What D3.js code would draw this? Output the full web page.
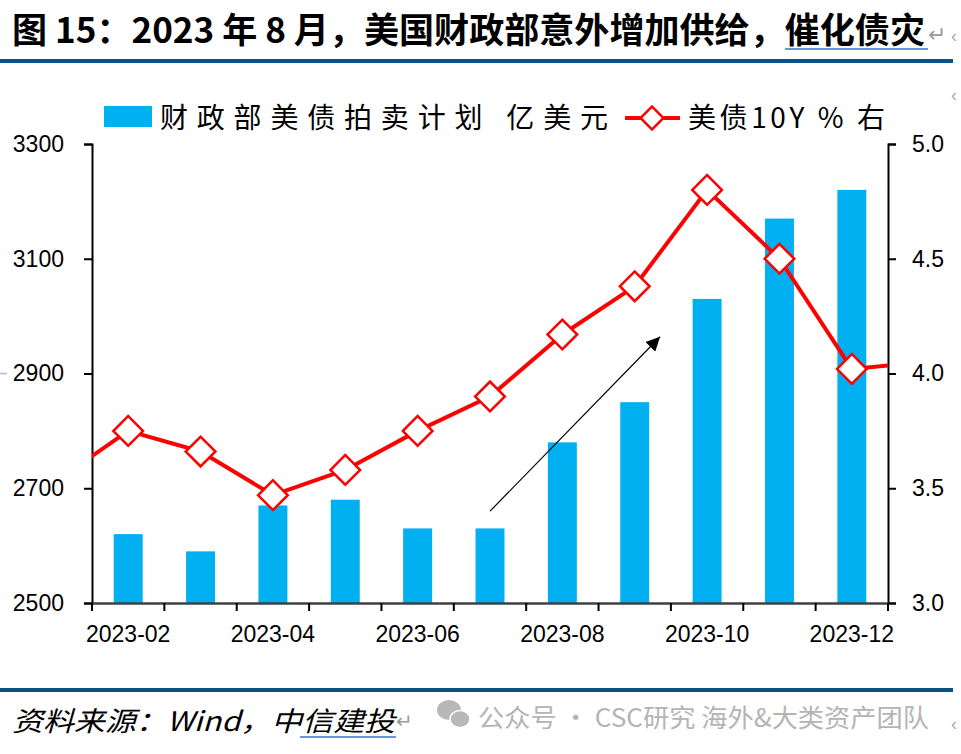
<!DOCTYPE html>
<html>
<head>
<meta charset="utf-8">
<script src="https://cdn.jsdelivr.net/npm/d3@7"></script>
<style>
  html, body { margin: 0; padding: 0; background: #fff; }
  svg { display: block; }
</style>
</head>
<body>
<svg id="chart" width="961" height="754"></svg>
<script>
// ---------------- data ----------------
const months = ["2023-02","2023-03","2023-04","2023-05","2023-06","2023-07","2023-08","2023-09","2023-10","2023-11","2023-12"];
const auction = [2620, 2590, 2670, 2680, 2630, 2630, 2780, 2850, 3030, 3170, 3220];
const yieldMonths = ["2023-01","2023-02","2023-03","2023-04","2023-05","2023-06","2023-07","2023-08","2023-09","2023-10","2023-11","2023-12","2024-01"];
const yield10y = [3.53, 3.75, 3.66, 3.47, 3.58, 3.75, 3.90, 4.17, 4.38, 4.80, 4.50, 4.02, 4.05];
const leftTicks = [2500, 2700, 2900, 3100, 3300];
const rightTicks = [3.0, 3.5, 4.0, 4.5, 5.0];
const xTickLabels = ["2023-02","2023-04","2023-06","2023-08","2023-10","2023-12"];
const titleText = "图 15：2023 年 8 月，美国财政部意外增加供给，催化债灾";
const legendBar = "财政部美债拍卖计划 亿美元";
const legendLine = "美债10Y % 右";
const sourceText = "资料来源：Wind，中信建投";
const watermark = "公众号 · CSC研究 海外&大类资产团队";
// trend arrow annotation in data terms: [category index, left-axis value]
const arrowFrom = [5, 2660];
const arrowTo = [7.35, 2964];

// ---------------- layout ----------------
const svg = d3.select("#chart");
const L = 92, R = 888, T = 144, B = 603;
const BLUE = "#00b0f0", RED = "#ff0000", NAVY = "#0b5282";
const numFont = "'Liberation Sans', Arial, sans-serif";
const cjkFont = "'Noto Sans CJK SC', 'Noto Sans', sans-serif";

const x = d3.scaleBand().domain(months).range([L, R]).paddingInner(0.6).paddingOuter(0.3);
const step = x.step();
const xl = d3.scalePoint().domain(yieldMonths).range([L - step / 2, R + step / 2]);
const yL = d3.scaleLinear().domain([2500, 3300]).range([B, T]);
const yR = d3.scaleLinear().domain([3.0, 5.0]).range([B, T]);

// ---------------- title ----------------
svg.append("text").attr("x", 12).attr("y", 43)
  .attr("font-family", cjkFont).attr("font-weight", 700).attr("font-size", 35)
  .attr("textLength", 913).attr("lengthAdjust", "spacingAndGlyphs")
  .attr("fill", "#000").text(titleText);
svg.append("line").attr("x1", 785).attr("x2", 928).attr("y1", 49).attr("y2", 49)
  .attr("stroke", "#3a6fd8").attr("stroke-width", 1.5);
svg.append("text").attr("x", 928).attr("y", 42).attr("font-family", cjkFont)
  .attr("font-size", 22).attr("fill", "#9a9a9a").text("↵");
svg.append("rect").attr("x", 0).attr("y", 59).attr("width", 953).attr("height", 4).attr("fill", NAVY);
svg.append("text").attr("x", 951).attr("y", 42).attr("font-family", numFont)
  .attr("font-size", 18).attr("fill", "#aaa").text("‹");
svg.append("text").attr("x", 951).attr("y", 101).attr("font-family", numFont)
  .attr("font-size", 18).attr("fill", "#aaa").text("‹");

// ---------------- legend ----------------
svg.append("rect").attr("x", 104).attr("y", 106).attr("width", 48).attr("height", 21).attr("fill", BLUE);
svg.append("text").attr("x", 160).attr("y", 128)
  .attr("font-family", cjkFont).attr("font-size", 28)
  .attr("textLength", 448).attr("lengthAdjust", "spacing")
  .attr("fill", "#000").text(legendBar);
svg.append("line").attr("x1", 625).attr("x2", 680).attr("y1", 118).attr("y2", 118)
  .attr("stroke", RED).attr("stroke-width", 4);
svg.append("path").attr("d", d3.symbol(d3.symbolSquare, 260)())
  .attr("transform", "translate(652,118) rotate(45)")
  .attr("fill", "#fff").attr("stroke", RED).attr("stroke-width", 2.5);
svg.append("text").attr("x", 688).attr("y", 128)
  .attr("font-family", cjkFont).attr("font-size", 28)
  .attr("textLength", 197).attr("lengthAdjust", "spacing")
  .attr("fill", "#000").text(legendLine);

// ---------------- bars ----------------
svg.append("g").selectAll("rect").data(months).join("rect")
  .attr("x", d => x(d)).attr("width", x.bandwidth())
  .attr("y", (d, i) => yL(auction[i]))
  .attr("height", (d, i) => yL(2500) - yL(auction[i]))
  .attr("fill", BLUE);

// ---------------- axes ----------------
const axL = svg.append("g").attr("transform", `translate(${L},0)`)
  .call(d3.axisLeft(yL).tickValues(leftTicks).tickSize(8).tickPadding(20).tickFormat(d3.format("d")));
const axR = svg.append("g").attr("transform", `translate(${R},0)`)
  .call(d3.axisRight(yR).tickValues(rightTicks).tickSize(8).tickPadding(10).tickFormat(d3.format(".1f")));
[axL, axR].forEach(a => {
  a.select(".domain").attr("stroke", "#000").attr("stroke-width", 2);
  a.selectAll(".tick line").attr("stroke", "#000").attr("stroke-width", 2);
  a.selectAll(".tick text").attr("font-family", numFont).attr("font-size", 23).attr("fill", "#000");
});
axR.selectAll(".tick text").attr("dx", 6);

// x axis
const axX = svg.append("g").attr("transform", `translate(0,${B})`)
  .call(d3.axisBottom(x).tickValues(xTickLabels).tickSize(0).tickPadding(23));
axX.select(".domain").attr("stroke", "#404040").attr("stroke-width", 2.5);
axX.selectAll(".tick text").attr("font-family", numFont).attr("font-size", 23).attr("fill", "#000");
const bounds = months.map(m => x(m) - (step - x.bandwidth()) / 2).concat([R]);
svg.append("g").selectAll("line").data(bounds).join("line")
  .attr("x1", d => d).attr("x2", d => d).attr("y1", B).attr("y2", B + 8)
  .attr("stroke", "#000").attr("stroke-width", 2);

// ---------------- line ----------------
svg.append("clipPath").attr("id", "plotClip").append("rect")
  .attr("x", L).attr("y", 0).attr("width", R - L).attr("height", 754);
svg.append("path")
  .datum(yieldMonths)
  .attr("clip-path", "url(#plotClip)")
  .attr("d", d3.line().x(d => xl(d)).y((d, i) => yR(yield10y[i])))
  .attr("fill", "none").attr("stroke", RED).attr("stroke-width", 4).attr("stroke-linejoin", "round");

const markerData = yieldMonths.map((m, i) => ({ m, v: yield10y[i] })).filter(d => months.includes(d.m));
svg.append("g").selectAll("path").data(markerData).join("path")
  .attr("d", d3.symbol(d3.symbolSquare, 440)())
  .attr("transform", d => `translate(${xl(d.m)},${yR(d.v)}) rotate(45)`)
  .attr("fill", "#fff").attr("stroke", RED).attr("stroke-width", 2.5);

// ---------------- arrow ----------------
const idxX = i => x(months[0]) + x.bandwidth() / 2 + i * step;
svg.append("defs").append("marker").attr("id", "arr")
  .attr("viewBox", "0 0 10 10").attr("refX", 10).attr("refY", 5)
  .attr("markerWidth", 14).attr("markerHeight", 14).attr("markerUnits", "userSpaceOnUse")
  .attr("orient", "auto")
  .append("path").attr("d", "M0,0 L10,5 L0,10 Z").attr("fill", "#000");
svg.append("line")
  .attr("x1", idxX(arrowFrom[0])).attr("y1", yL(arrowFrom[1]))
  .attr("x2", idxX(arrowTo[0])).attr("y2", yL(arrowTo[1]))
  .attr("stroke", "#000").attr("stroke-width", 1.2).attr("marker-end", "url(#arr)");

// small artifact at left edge
svg.append("line").attr("x1", 0).attr("x2", 7).attr("y1", yL(2900)).attr("y2", yL(2900))
  .attr("stroke", "#bbb").attr("stroke-width", 1.5);

// ---------------- footer ----------------
svg.append("rect").attr("x", 0).attr("y", 688).attr("width", 953).attr("height", 4).attr("fill", NAVY);
svg.append("text").attr("x", 12).attr("y", 731)
  .attr("font-family", cjkFont).attr("font-style", "italic").attr("font-size", 27)
  .attr("textLength", 383).attr("lengthAdjust", "spacingAndGlyphs")
  .attr("fill", "#000").text(sourceText);
svg.append("line").attr("x1", 300).attr("x2", 396).attr("y1", 737).attr("y2", 737)
  .attr("stroke", "#3a6fd8").attr("stroke-width", 1.5);
svg.append("text").attr("x", 396).attr("y", 728).attr("font-family", cjkFont)
  .attr("font-size", 20).attr("fill", "#9a9a9a").text("↵");
// wechat icon
const icon = svg.append("g").attr("fill", "#b8b8b8");
icon.append("ellipse").attr("cx", 449).attr("cy", 710).attr("rx", 12).attr("ry", 10);
icon.append("ellipse").attr("cx", 460).attr("cy", 719).attr("rx", 10).attr("ry", 8.5).attr("stroke", "#fff").attr("stroke-width", 1.5);
svg.append("text").attr("x", 478).attr("y", 727)
  .attr("font-family", cjkFont).attr("font-size", 25)
  .attr("textLength", 451).attr("lengthAdjust", "spacingAndGlyphs")
  .attr("fill", "#b4b4b4").text(watermark);
svg.append("text").attr("x", 951).attr("y", 730).attr("font-family", numFont)
  .attr("font-size", 18).attr("fill", "#aaa").text("‹");
</script>
</body>
</html>
